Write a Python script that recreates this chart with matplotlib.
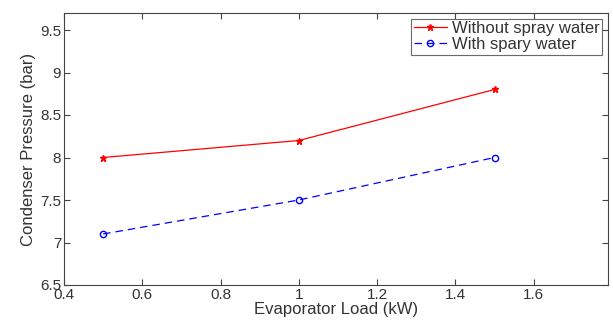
import matplotlib
matplotlib.use('Agg')
import matplotlib.pyplot as plt

load = [0.5, 1.0, 1.5]
without_spray = [8.0, 8.2, 8.8]
with_spray = [7.1, 7.5, 8.0]

plt.rcParams['font.family'] = ['Liberation Sans', 'DejaVu Sans']
plt.rcParams['text.color'] = '#333333'

fig = plt.figure(figsize=(6.13, 3.29), dpi=100)
ax = fig.add_axes([64 / 613, 1 - 285 / 329, 544 / 613, 272 / 329])

ax.plot(load, without_spray, '-*', color='red', lw=0.9, ms=5, label='Without spray water')
ax.plot(load, with_spray, '--o', color='blue', lw=0.9, ms=4.5, mfc='none', dashes=(6, 4),
        label='With spary water')

ax.set_xlim(0.4, 1.79)
ax.set_ylim(6.5, 9.7)
ax.set_xticks([0.4, 0.6, 0.8, 1.0, 1.2, 1.4, 1.6])
ax.set_xticklabels(['0.4', '0.6', '0.8', '1', '1.2', '1.4', '1.6'])
ax.set_yticks([6.5, 7, 7.5, 8, 8.5, 9, 9.5])
ax.set_yticklabels(['6.5', '7', '7.5', '8', '8.5', '9', '9.5'])
ax.tick_params(direction='in', top=True, right=True, length=4, labelsize=11, pad=2,
               labelcolor='#333333', color='#444444')
for s in ax.spines.values():
    s.set_color('#444444')
    s.set_linewidth(0.8)

ax.set_xlabel('Evaporator Load (kW)', fontsize=12, labelpad=0, color='#333333')
ax.set_ylabel('Condenser Pressure (bar)', fontsize=12, labelpad=3, color='#333333')

leg = ax.legend(loc='upper right', fontsize=12, fancybox=False, edgecolor='#444444',
                borderpad=0.15, labelspacing=0.05, handlelength=2.0, handletextpad=0.3,
                borderaxespad=0.35)
leg.get_frame().set_linewidth(0.8)
for t in leg.get_texts():
    t.set_color('#333333')

fig.savefig('out.png', dpi=100)
